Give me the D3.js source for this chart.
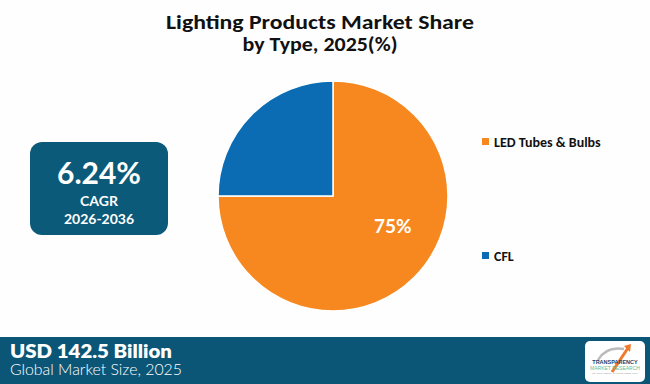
<!DOCTYPE html>
<html><head><meta charset="utf-8">
<script src="https://cdn.jsdelivr.net/npm/d3@7"></script>
<style>body{margin:0;background:#fefefe;}svg{display:block;}</style>
</head><body>
<svg id="c" width="650" height="384"></svg>
<script>
const categories = ["LED Tubes & Bulbs", "CFL"];
const values = [75, 25];
const colors = ["#f7881f", "#0b6cb4"];
const titleLines = ["Lighting Products Market Share", "by Type, 2025(%)"];
const cagrLines = ["6.24%", "CAGR", "2026-2036"];
const footerLines = ["USD 142.5 Billion", "Global Market Size, 2025"];

const svg = d3.select("#c");
svg.append("rect").attr("width",650).attr("height",384).attr("fill","#fefefe");

// Title
const tf = "Calibri, Carlito, 'Open Sans', sans-serif";
svg.append("text").attr("x",320).attr("y",29).attr("text-anchor","middle")
  .attr("font-family",tf).attr("font-weight",700).attr("font-size",20).attr("fill","#111")
  .attr("textLength",308).attr("lengthAdjust","spacingAndGlyphs").text(titleLines[0]);
svg.append("text").attr("x",320).attr("y",51).attr("text-anchor","middle")
  .attr("font-family",tf).attr("font-weight",700).attr("font-size",20).attr("fill","#111")
  .attr("textLength",155).attr("lengthAdjust","spacingAndGlyphs").text(titleLines[1]);

// Pie
const cx = 333, cy = 196, r = 115;
const pie = d3.pie().sort(null).value(d=>d)(values);
const arc = d3.arc().innerRadius(0).outerRadius(r);
const g = svg.append("g").attr("transform",`translate(${cx},${cy})`);
g.selectAll("path").data(pie).join("path")
  .attr("d",arc).attr("fill",(d,i)=>colors[i]).attr("stroke","#fff").attr("stroke-width",1.5);
const labelArc = d3.arc().innerRadius(r*0.6).outerRadius(r*0.6);
g.append("text").datum(pie[0])
  .attr("transform",d=>{const c=labelArc.centroid(d);return `translate(${c[0]+11},${c[1]-18})`;})
  .attr("text-anchor","middle").attr("dy","0.35em")
  .attr("font-family","'Century Gothic', 'Lato', sans-serif").attr("font-weight",700)
  .attr("font-size",19).attr("fill","#fff").text(values[0]+"%");

// Legend
const leg = svg.append("g");
const ly = [142, 256];
categories.forEach((c,i)=>{
  leg.append("rect").attr("x",482).attr("y",ly[i]-4).attr("width",7).attr("height",7).attr("fill",colors[i]);
  leg.append("text").attr("x",494).attr("y",ly[i]+5)
    .attr("font-family",tf).attr("font-weight",700).attr("font-size",14).attr("fill","#111").text(c);
});

// CAGR box
svg.append("rect").attr("x",30).attr("y",142).attr("width",138).attr("height",93).attr("rx",12)
  .attr("fill","#0b5a79");
const bf = "'Century Gothic', 'Lato', sans-serif";
svg.append("text").attr("x",99).attr("y",184).attr("text-anchor","middle").attr("font-family",bf)
  .attr("font-weight",700).attr("font-size",30).attr("fill","#fff").text(cagrLines[0]);
svg.append("text").attr("x",99).attr("y",206).attr("text-anchor","middle").attr("font-family",bf)
  .attr("font-weight",700).attr("font-size",14).attr("fill","#fff").text(cagrLines[1]);
svg.append("text").attr("x",99).attr("y",224).attr("text-anchor","middle").attr("font-family",bf)
  .attr("font-weight",700).attr("font-size",14).attr("fill","#fff").text(cagrLines[2]);

// Footer
svg.append("rect").attr("x",0).attr("y",337).attr("width",650).attr("height",47).attr("fill","#0b5677");
svg.append("text").attr("x",10).attr("y",358).attr("font-family",bf).attr("font-weight",800)
  .attr("font-size",18).attr("fill","#fff").attr("textLength",162).attr("lengthAdjust","spacingAndGlyphs").text(footerLines[0]);
svg.append("text").attr("x",10).attr("y",375).attr("font-family",bf).attr("font-weight",300)
  .attr("font-size",15).attr("fill","#fff").attr("textLength",172).attr("lengthAdjust","spacingAndGlyphs").text(footerLines[1]);

// Logo
const lg = svg.append("g");
lg.append("rect").attr("x",585).attr("y",341).attr("width",60).attr("height",41).attr("rx",5).attr("fill","#fff");
lg.append("path").attr("d","M598,360 Q606,346 624,349").attr("fill","none").attr("stroke","#bbb").attr("stroke-width",2.5);
lg.append("path").attr("d","M612,372 L628,348").attr("fill","none").attr("stroke","#f07a2a").attr("stroke-width",3);
lg.append("path").attr("d","M624,346 L631,344 L630,352 Z").attr("fill","#f07a2a");
lg.append("text").attr("x",615).attr("y",364).attr("text-anchor","middle").attr("font-family","'Liberation Sans', sans-serif")
  .attr("font-weight",700).attr("font-size",5.5).attr("fill","#1d3f6e").text("TRANSPARENCY");
lg.append("text").attr("x",615).attr("y",370).attr("text-anchor","middle").attr("font-family","'Liberation Sans', sans-serif")
  .attr("font-size",5).attr("fill","#6cb98f").text("MARKET RESEARCH");
lg.append("text").attr("x",615).attr("y",374).attr("text-anchor","middle").attr("font-family","'Liberation Sans', sans-serif")
  .attr("font-size",2.5).attr("fill","#999").text("TRANSPARENCY MARKET RESEARCH");
</script>
</body></html>
